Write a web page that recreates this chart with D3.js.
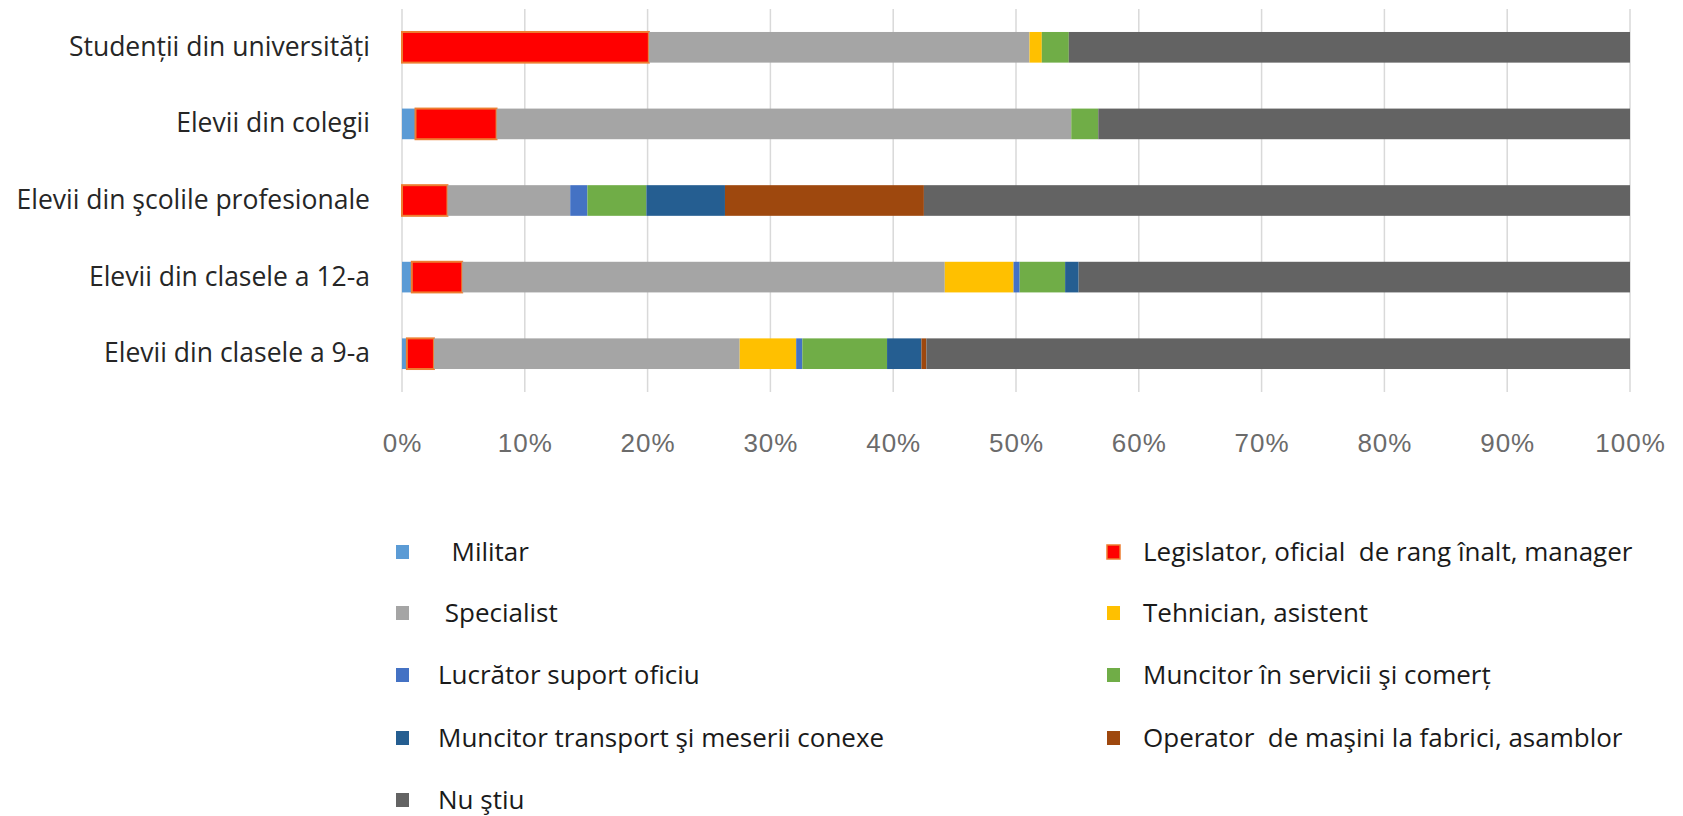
<!DOCTYPE html>
<html>
<head>
<meta charset="utf-8">
<script src="https://cdn.jsdelivr.net/npm/d3@7"></script>
<style>
  body { margin: 0; background: #fff; }
  text { white-space: pre; }
</style>
</head>
<body>
<script>
// categories, top to bottom
const categories = [
  "Studenții din universități",
  "Elevii din colegii",
  "Elevii din şcolile profesionale",
  "Elevii din clasele a 12-a",
  "Elevii din clasele a 9-a"
];

const seriesNames = [
  "  Militar",
  "Legislator, oficial  de rang înalt, manager",
  " Specialist",
  "Tehnician, asistent",
  "Lucrător suport oficiu",
  "Muncitor în servicii şi comerț",
  "Muncitor transport şi meserii conexe",
  "Operator  de maşini la fabrici, asamblor",
  "Nu ştiu"
];

// percent values, one array per series, in category order
const militar     = [0,    1.1,  0,    0.8,  0.4];
const legislator  = [20.1, 6.6,  3.7,  4.1,  2.2];
const specialist  = [31.0, 46.8, 10.0, 39.3, 24.9];
const tehnician   = [1.0,  0,    0,    5.6,  4.6];
const lucrator    = [0,    0,    1.4,  0.5,  0.5];
const servicii    = [2.2,  2.2,  4.8,  3.7,  6.9];
const transport   = [0,    0,    6.4,  1.1,  2.8];
const operatorM   = [0,    0,    16.2, 0,    0.4];
const nuStiu      = [45.7, 43.3, 57.5, 44.9, 57.3];

const ticks = [0, 10, 20, 30, 40, 50, 60, 70, 80, 90, 100];

const colors = ["#5B9BD5", "#FF0000", "#A5A5A5", "#FFC000", "#4472C4",
                "#70AD47", "#255E91", "#9E480E", "#636363"];

const allSeries = [militar, legislator, specialist, tehnician, lucrator,
                   servicii, transport, operatorM, nuStiu];

const keys = seriesNames.map((d, i) => "s" + i);
const table = categories.map(function (c, ci) {
  let row = { cat: c };
  allSeries.forEach((arr, si) => { row["s" + si] = arr[ci]; });
  return row;
});

const w = 1683, h = 816;
const font = "'Open Sans', sans-serif";
const svg = d3.select("body").append("svg")
  .attr("width", w)
  .attr("height", h);

const xScale = d3.scaleLinear().domain([0, 100]).range([402, 1630]);
const yScale = d3.scaleBand()
  .domain(categories)
  .range([9, 392])
  .paddingInner(0.6)
  .paddingOuter(0.3);

// gridlines
svg.append("g")
  .selectAll("line")
  .data(ticks)
  .enter()
  .append("line")
  .attr("x1", d => xScale(d))
  .attr("x2", d => xScale(d))
  .attr("y1", 9)
  .attr("y2", 392)
  .attr("stroke", "#d9d9d9")
  .attr("stroke-width", 1.5);

// x axis labels
const xAxis = d3.axisBottom(xScale)
  .tickValues(ticks)
  .tickFormat(d => d + "%")
  .tickSize(0)
  .tickPadding(0);
const xg = svg.append("g")
  .attr("transform", "translate(0, 434)")
  .call(xAxis);
xg.select(".domain").remove();
xg.selectAll("text")
  .attr("font-family", "Liberation Sans, sans-serif")
  .attr("font-size", "26px")
  .attr("letter-spacing", "1px")
  .attr("fill", "#6b6b6b");

// y axis labels
const yAxis = d3.axisLeft(yScale).tickSize(0).tickPadding(0);
const yg = svg.append("g")
  .attr("transform", "translate(370, 0)")
  .call(yAxis);
yg.select(".domain").remove();
yg.selectAll("text")
  .attr("font-family", font)
  .attr("font-size", "26.5px")
  .attr("fill", "#262626");

// stacked bars
const stacked = d3.stack().keys(keys)(table);

svg.append("g")
  .selectAll("g")
  .data(stacked)
  .enter()
  .append("g")
  .attr("fill", (d, i) => colors[i])
  .attr("stroke", (d, i) => i == 1 ? "#ED7D31" : "none")
  .attr("stroke-width", 2)
  .selectAll("rect")
  .data(d => d.filter(p => p[1] - p[0] > 0))
  .enter()
  .append("rect")
  .attr("x", d => xScale(d[0]))
  .attr("y", d => yScale(d.data.cat))
  .attr("width", d => xScale(d[1]) - xScale(d[0]))
  .attr("height", yScale.bandwidth());

// Legend, two columns
const legendCols = [396, 1107];
const legendRows = [552, 613, 675, 738, 800];
const legend = svg.append("g")
  .selectAll("g")
  .data(seriesNames)
  .enter()
  .append("g")
  .attr("transform", (d, i) => `translate(${legendCols[i % 2]}, ${legendRows[Math.floor(i / 2)]})`);

legend.append("rect")
  .attr("x", 0)
  .attr("y", -7)
  .attr("width", 13)
  .attr("height", 14)
  .attr("fill", (d, i) => colors[i])
  .attr("stroke", (d, i) => i == 1 ? "#ED7D31" : "none")
  .attr("stroke-width", 1.5);

legend.append("text")
  .attr("x", (d, i) => i % 2 == 0 ? 42 : 36)
  .attr("y", 0)
  .attr("dy", "0.35em")
  .attr("font-family", font)
  .attr("font-size", "26px")
  .attr("fill", "#1a1a1a")
  .text(d => d);
</script>
</body>
</html>
